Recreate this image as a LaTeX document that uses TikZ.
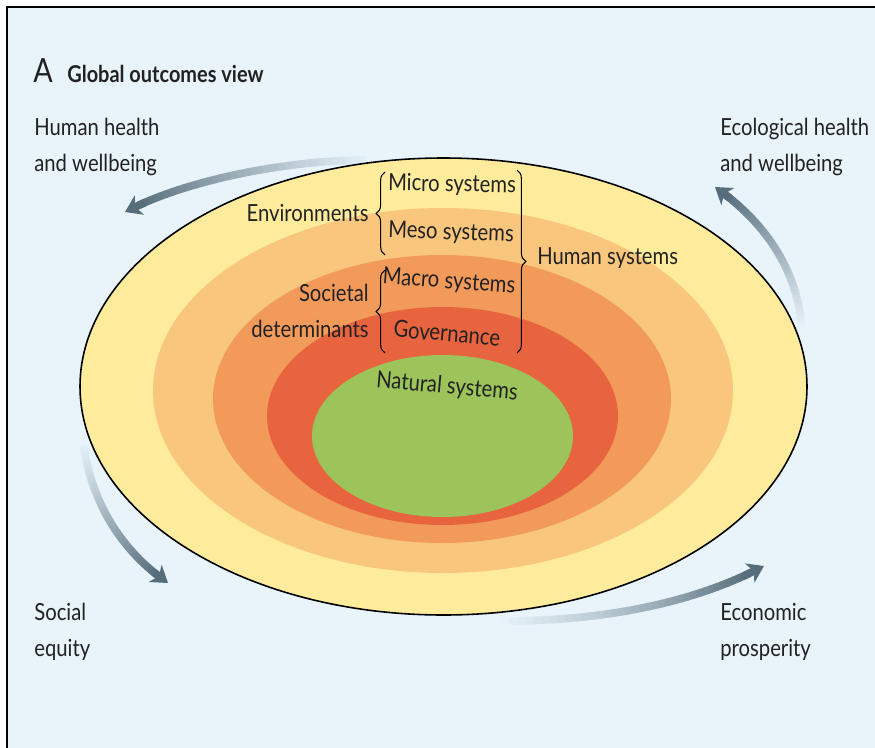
\documentclass[tikz,border=0pt]{standalone}
\usepackage{fontspec}
\setmainfont{Lato}[FakeStretch=0.86]
\usetikzlibrary{arrows.meta, calc, decorations.pathreplacing}
\definecolor{gobg}{HTML}{E8F3FA}
\definecolor{ringa}{HTML}{FEEC9C}
\definecolor{ringb}{HTML}{F8C67D}
\definecolor{ringc}{HTML}{F29A5A}
\definecolor{ringd}{HTML}{E8643F}
\definecolor{natgreen}{HTML}{9DC35B}
\definecolor{arrowgray}{HTML}{566E7C}
\definecolor{labeltext}{HTML}{222222}

% curved arrow that fades out towards its tail: tail, control, control, head
\newcommand{\fadearrow}[4]{%
  \foreach \i in {0,...,40}{
    \path (#1) .. controls (#2) and (#3) .. (#4) coordinate[pos=\i/40] (fa\i);
  }
  \foreach \i [evaluate=\i as \j using int(\i+1), evaluate=\i as \k using int(100*(\i/37)^1.1)] in {0,...,36}{
    \draw[shaft, arrowgray!\k!gobg] (fa\i) -- (fa\j);
  }
  \draw[shaft, line cap=butt, arrowgray, -{Stealth[length=9pt, width=12pt, inset=2.5pt]}] (fa36) -- (fa40);
}

\begin{document}
\begin{tikzpicture}[x=0.02cm, y=-0.02cm,
    lbl/.style={font=\fontsize{13.4}{20.4}\selectfont, inner sep=0pt, text=labeltext},
    ring/.style={lbl, anchor=center},
    side/.style={lbl, align=left, anchor=north west},
    shaft/.style={line width=4.4pt, line cap=round},
    grp/.style={decorate, decoration={brace, amplitude=5pt}, line width=0.6pt}
]
\useasboundingbox (0,0) rectangle (875,747);

% panel
\fill[white] (0,0) rectangle (875,747);
\fill[gobg] (7,7) rectangle (885,757);
\draw[line width=1.1pt] (7,757) -- (7,7) -- (885,7);

\node[lbl, anchor=base west, font=\fontsize{19}{22}\selectfont] (panel) at (33,82) {A};
\node[lbl, anchor=base west, font=\fontsize{13.2}{16}\selectfont\bfseries] (title) at (67,82) {Global outcomes view};

% outcome arrows around the rings
\coordinate (hhtail) at (375,160);
\coordinate (hhhead) at (125,212);
\coordinate (ectail) at (802,330);
\coordinate (echead) at (715,187);
\coordinate (setail) at (83,440);
\coordinate (sehead) at (168,583);
\coordinate (eptail) at (495,621);
\coordinate (ephead) at (764,566);

\fadearrow{hhtail}{290,159}{185,180}{hhhead}
\fadearrow{ectail}{798,270}{765,222}{echead}
\fadearrow{setail}{90,500}{120,550}{sehead}
\fadearrow{eptail}{610,622}{700,600}{ephead}

% nested systems
\fill[ringa, draw=black, line width=0.9pt] (443.5,386.5) ellipse [x radius=363.5, y radius=228.5];
\fill[ringb] (443,390.5) ellipse [x radius=290, y radius=182.5];
\fill[ringc] (442,399) ellipse [x radius=229, y radius=144];
\fill[ringd] (442.5,416) ellipse [x radius=175.5, y radius=109];
\fill[natgreen] (442.5,436) ellipse [x radius=130.5, y radius=81];

% ring labels
\node[ring, rotate=-1] (micro) at (452,185) {Micro systems};
\node[ring, rotate=-2] (meso) at (451,233) {Meso systems};
\node[ring, rotate=-4] (macro) at (449,282) {Macro systems};
\node[ring, rotate=-5] (gov) at (447,333) {Governance};
\node[ring, rotate=-5] (natural) at (447,387) {Natural systems};

% groupings
\draw[grp] (385,255) -- (385,172) coordinate[midway] (envbrace);
\draw[grp] (385,353) -- (385,270) coordinate[midway] (socbrace);
\draw[grp] (517,170) -- (517,353) coordinate[midway] (humbrace);

\node[lbl, anchor=east] (env) at (369,213) {Environments};
\node[lbl, anchor=east, align=right] (soc) at (369,311) {Societal\\determinants};
\node[lbl, anchor=west] (human) at (537,258) {Human systems};

% outcomes
\node[side] (hhealth) at (34,118) {Human health\\and wellbeing};
\node[side] (ehealth) at (720,118) {Ecological health\\and wellbeing};
\node[side] (social) at (34,603) {Social\\equity};
\node[side] (econ) at (720,603) {Economic\\prosperity};

\end{tikzpicture}
\end{document}
